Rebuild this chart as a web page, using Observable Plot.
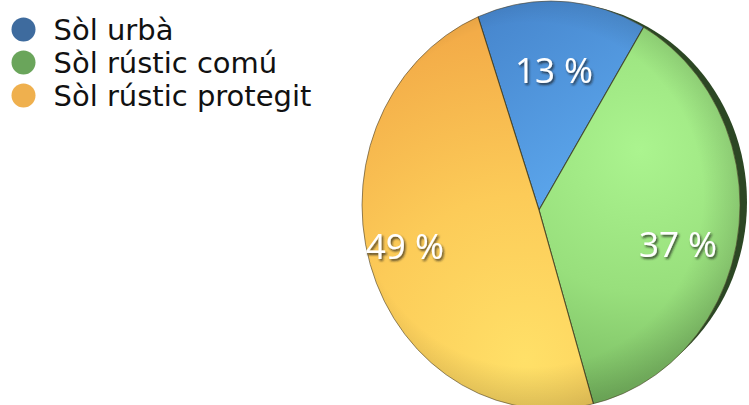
<!DOCTYPE html>
<html>
<head>
<meta charset="utf-8">
<script src="https://cdn.jsdelivr.net/npm/d3@7"></script>
<script src="https://cdn.jsdelivr.net/npm/@observablehq/plot@0.6"></script>
<style>
  html, body { margin: 0; padding: 0; background: #ffffff; }
  #chart svg { display: block; }
</style>
</head>
<body>
<div id="chart"></div>
<script>
// ---- data ----
const categories = ["Sòl urbà", "Sòl rústic comú", "Sòl rústic protegit"];
const shares = [13, 37, 49];
const shareLabels = ["13 %", "37 %", "49 %"];
const legendColors = ["#3e6b9e", "#6aa55b", "#efb04e"];

// ---- style (slice shading) ----
const sliceStops = [
  ["#4685cc", "#5eaaf0"],
  ["#abf48f", "#78ba61"],
  ["#ffe068", "#f3ac48"]
];

const rows = categories.map((c, i) => ({category: c, share: shares[i], label: shareLabels[i]}));

const W = 749, H = 405;
// pie geometry (layout)
const face = {cx: 551, cy: 205, rx: 189, ry: 204};
const apex = {x: 539, y: 210};
const startAngle = -17.5 * Math.PI / 180;

function pieMark(index, scales, values, dimensions) {
  const colorScale = scales && scales.color ? scales.color : d3.scaleOrdinal(categories, legendColors);
  const g = d3.create("svg:g");
  const defs = g.append("defs");
  defs.append("clipPath").attr("id", "faceClip")
    .append("ellipse").attr("cx", face.cx).attr("cy", face.cy).attr("rx", face.rx).attr("ry", face.ry);

  const gb = defs.append("linearGradient").attr("id", "grad0").attr("gradientUnits", "userSpaceOnUse")
    .attr("x1", 480).attr("y1", 10).attr("x2", 610).attr("y2", 200);
  gb.append("stop").attr("offset", 0).attr("stop-color", sliceStops[0][0]);
  gb.append("stop").attr("offset", 1).attr("stop-color", sliceStops[0][1]);

  const gg = defs.append("radialGradient").attr("id", "grad1").attr("gradientUnits", "userSpaceOnUse")
    .attr("cx", 640).attr("cy", 150).attr("r", 260);
  gg.append("stop").attr("offset", 0).attr("stop-color", sliceStops[1][0]);
  gg.append("stop").attr("offset", 0.55).attr("stop-color", "#98df7c");
  gg.append("stop").attr("offset", 1).attr("stop-color", sliceStops[1][1]);

  const go = defs.append("radialGradient").attr("id", "grad2").attr("gradientUnits", "userSpaceOnUse")
    .attr("cx", 525).attr("cy", 360).attr("r", 330);
  go.append("stop").attr("offset", 0).attr("stop-color", sliceStops[2][0]);
  go.append("stop").attr("offset", 0.5).attr("stop-color", "#fccb58");
  go.append("stop").attr("offset", 1).attr("stop-color", sliceStops[2][1]);

  const rim = defs.append("radialGradient").attr("id", "rim").attr("gradientUnits", "userSpaceOnUse")
    .attr("cx", face.cx - 20).attr("cy", face.cy - 10).attr("r", 215);
  rim.append("stop").attr("offset", 0.8).attr("stop-color", "#000").attr("stop-opacity", 0);
  rim.append("stop").attr("offset", 1).attr("stop-color", "#000").attr("stop-opacity", 0.14);

  const f = defs.append("filter").attr("id", "shadow").attr("x", "-20%").attr("y", "-20%").attr("width", "150%").attr("height", "150%");
  f.append("feDropShadow").attr("dx", 1.5).attr("dy", 2).attr("stdDeviation", 1.3)
    .attr("flood-color", "#1a1a1a").attr("flood-opacity", 0.75);

  // dark 3D side
  g.append("ellipse").attr("cx", face.cx + 7).attr("cy", face.cy - 3).attr("rx", face.rx).attr("ry", face.ry - 5)
    .attr("fill", "#2c4724");

  const pie = d3.pie().sort(null).value(d => d.share).startAngle(startAngle).endAngle(startAngle + 2 * Math.PI);
  const arcs = pie(rows);
  const wedge = d => {
    const a0 = d.startAngle - Math.PI / 2, a1 = d.endAngle - Math.PI / 2;
    const p = d3.path();
    p.moveTo(apex.x, apex.y);
    p.arc(apex.x, apex.y, 480, a0, a1);
    p.closePath();
    return p.toString();
  };

  const slices = g.append("g").attr("clip-path", "url(#faceClip)");
  slices.selectAll("path.slice").data(arcs).join("path")
    .attr("class", "slice")
    .attr("d", wedge)
    .attr("fill", (d, i) => `url(#grad${i})`)
    .attr("data-color", d => colorScale(d.data.category))
    .attr("stroke", "#3c3a22")
    .attr("stroke-opacity", 0.75)
    .attr("stroke-width", 1.1);
  slices.append("ellipse").attr("cx", face.cx).attr("cy", face.cy).attr("rx", face.rx).attr("ry", face.ry)
    .attr("fill", "url(#rim)");

  g.append("ellipse").attr("cx", face.cx).attr("cy", face.cy).attr("rx", face.rx).attr("ry", face.ry)
    .attr("fill", "none").attr("stroke", "#4a4028").attr("stroke-opacity", 0.6).attr("stroke-width", 1);

  const labelArc = d3.arc().innerRadius(140).outerRadius(140);
  const labelOffsets = [0, 17, -4];
  g.append("g").selectAll("text").data(arcs).join("text")
    .attr("x", d => apex.x + labelArc.centroid(d)[0])
    .attr("y", (d, i) => apex.y + labelArc.centroid(d)[1] + labelOffsets[i])
    .attr("dy", "0.36em")
    .attr("text-anchor", "middle")
    .attr("font-family", "'Open Sans', sans-serif")
    .attr("font-size", 35)
    .attr("fill", "#ffffff")
    .attr("filter", "url(#shadow)")
    .text(d => d.data.label);
  return g.node();
}

const chart = Plot.plot({
  width: W,
  height: H,
  margin: 0,
  style: {background: "#ffffff", overflow: "visible"},
  color: {domain: categories, range: legendColors},
  y: {type: "point", domain: categories, range: [28, 95], padding: 0, axis: null},
  marks: [
    pieMark,
    Plot.dot(rows, {y: "category", fill: "category", r: 12, frameAnchor: "left", dx: 23}),
    Plot.text(rows, {y: "category", text: "category", frameAnchor: "left", dx: 53, dy: 1,
      textAnchor: "start", fontSize: 29, fontFamily: "'DejaVu Sans', sans-serif", fill: "#111111"})
  ]
});
document.getElementById("chart").appendChild(chart);
</script>
</body>
</html>
